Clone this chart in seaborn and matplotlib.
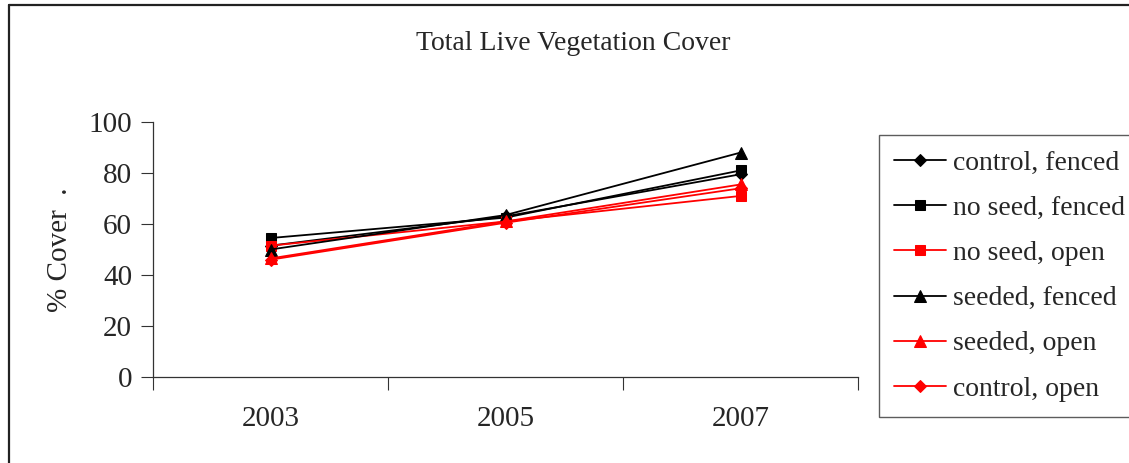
import numpy as np
import pandas as pd
import matplotlib
matplotlib.use("Agg")
import matplotlib.pyplot as plt
import seaborn as sns
from matplotlib.lines import Line2D

years = ["2003", "2005", "2007"]
series_names = ["control, fenced", "no seed, fenced", "no seed, open",
                "seeded, fenced", "seeded, open", "control, open"]
control_fenced = [51.5, 63.0, 79.5]
no_seed_fenced = [54.5, 62.5, 81.0]
no_seed_open = [51.5, 61.0, 71.0]
seeded_fenced = [50.0, 63.5, 88.0]
seeded_open = [46.5, 61.0, 75.5]
control_open = [46.0, 60.5, 74.0]
y_ticks = [0, 20, 40, 60, 80, 100]

values = [control_fenced, no_seed_fenced, no_seed_open,
          seeded_fenced, seeded_open, control_open]
rows = []
for name, vals in zip(series_names, values):
    for i, v in enumerate(vals):
        rows.append({"pos": i, "year": years[i], "series": name, "cover": v})
df = pd.DataFrame(rows)

sns.set_theme(style="white")
plt.rcParams["font.family"] = ["Liberation Serif", "DejaVu Serif"]

colors = {"control, fenced": "black", "no seed, fenced": "black", "no seed, open": "red",
          "seeded, fenced": "black", "seeded, open": "red", "control, open": "red"}
markers = {"control, fenced": "D", "no seed, fenced": "s", "no seed, open": "s",
           "seeded, fenced": "^", "seeded, open": "^", "control, open": "D"}
msize = {"D": 6.5, "s": 7.0, "^": 8.5}

fig = plt.figure(figsize=(11.29, 4.63), dpi=100)
ax = fig.add_axes([153/1129, 1-377/463, (858-153)/1129, (377-122)/463])

for name in series_names:
    sub = df[df["series"] == name]
    sns.lineplot(data=sub, x="pos", y="cover", ax=ax, color=colors[name],
                 marker=markers[name], markersize=msize[markers[name]],
                 markeredgecolor=colors[name], markerfacecolor=colors[name],
                 linewidth=1.3, label=name, sort=False)

ax.set_xlim(-0.5, len(years) - 0.5)
ax.set_ylim(0, 100)
ax.set_yticks(y_ticks)
ax.set_yticklabels([str(t) for t in y_ticks], fontsize=21)
ax.set_xticks(np.arange(len(years) + 1) - 0.5)
ax.set_xticklabels([])
ax.set_xticks(np.arange(len(years)), minor=True)
ax.set_xticklabels(years, minor=True, fontsize=21)
ax.tick_params(axis="x", which="minor", length=0, pad=21)
ax.tick_params(axis="x", which="major", direction="out", length=9, width=0.8, color="#333333")
ax.tick_params(axis="y", direction="out", length=9, width=0.8, color="#333333", pad=6, left=True)
ax.tick_params(axis="x", bottom=True, which="major")
for s in ["top", "right"]:
    ax.spines[s].set_visible(False)
for s in ["left", "bottom"]:
    ax.spines[s].set_color("#333333")
    ax.spines[s].set_linewidth(0.9)
ax.set_xlabel("")
ax.set_ylabel("% Cover  .", fontsize=21, labelpad=11)
ax.grid(False)

fig.text(573/1129, 1-43/463, "Total Live Vegetation Cover", ha="center", va="center", fontsize=20)

leg = ax.legend(loc="upper left", bbox_to_anchor=(879/1129, 1-135/463),
                bbox_transform=fig.transFigure, fontsize=20, frameon=True,
                fancybox=False, edgecolor="#333333", handlelength=1.85,
                labelspacing=0.71, borderpad=0.55, handletextpad=0.25,
                borderaxespad=0)
leg.get_frame().set_linewidth(1.0)

fig.add_artist(Line2D([9/1129, 9/1129], [0, 1-5/463], color="#222222", linewidth=1.6,
                      transform=fig.transFigure))
fig.add_artist(Line2D([9/1129, 1], [1-5/463, 1-5/463], color="#222222", linewidth=1.6,
                      transform=fig.transFigure))

fig.savefig("out.png", dpi=100)
